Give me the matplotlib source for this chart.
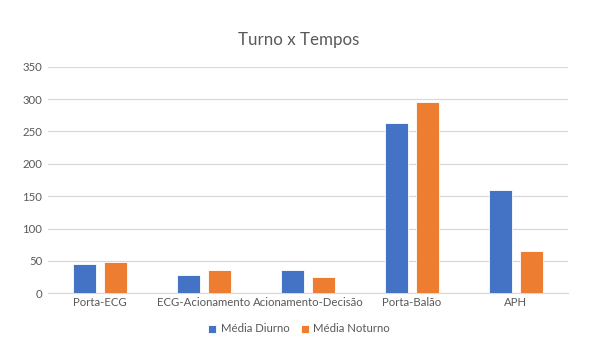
import matplotlib.pyplot as plt
import numpy as np

plt.rcParams["font.family"] = ["Lato", "DejaVu Sans"]

categorias = ["Porta-ECG", "ECG-Acionamento", "Acionamento-Decisão", "Porta-Balão", "APH"]
media_diurno = [46, 29, 36, 263, 159]
media_noturno = [48, 36, 25, 295, 66]
yticks = [0, 50, 100, 150, 200, 250, 300, 350]

azul = "#4472C4"
laranja = "#ED7D31"
cinza = "#595959"

fig = plt.figure(figsize=(5.98, 3.52), dpi=100)
ax = fig.add_axes([48 / 598, 58.7 / 352, 520 / 598, 226.6 / 352])

x = np.arange(len(categorias))
w = 0.22
ax.bar(x - 0.145, media_diurno, width=w, color=azul, edgecolor="white", lw=0.6, label="Média Diurno", zorder=3)
ax.bar(x + 0.145, media_noturno, width=w, color=laranja, edgecolor="white", lw=0.6, label="Média Noturno", zorder=3)

ax.set_xlim(-0.5, len(categorias) - 0.5)
ax.set_ylim(0, 350)
ax.set_yticks(yticks)
ax.set_xticks(x)
ax.set_xticklabels(categorias)
ax.grid(axis="y", color="#D9D9D9", lw=0.9, zorder=0)
for s in ["top", "right", "left"]:
    ax.spines[s].set_visible(False)
ax.spines["bottom"].set_color("#D9D9D9")
ax.tick_params(length=0, colors=cinza, labelsize=8.2)
ax.tick_params(axis="y", pad=4)
ax.tick_params(axis="x", pad=3)

fig.text(0.5, 1 - 40 / 352, "Turno x Tempos", ha="center", va="center", fontsize=12.2, color=cinza)
fig.legend(loc="center", bbox_to_anchor=(0.5, 1 - 329 / 352), ncol=2, frameon=False,
           fontsize=8.2, handlelength=0.7, handleheight=0.7, handletextpad=0.4, columnspacing=1.0,
           labelcolor=cinza)

fig.savefig("out.png", dpi=100)
